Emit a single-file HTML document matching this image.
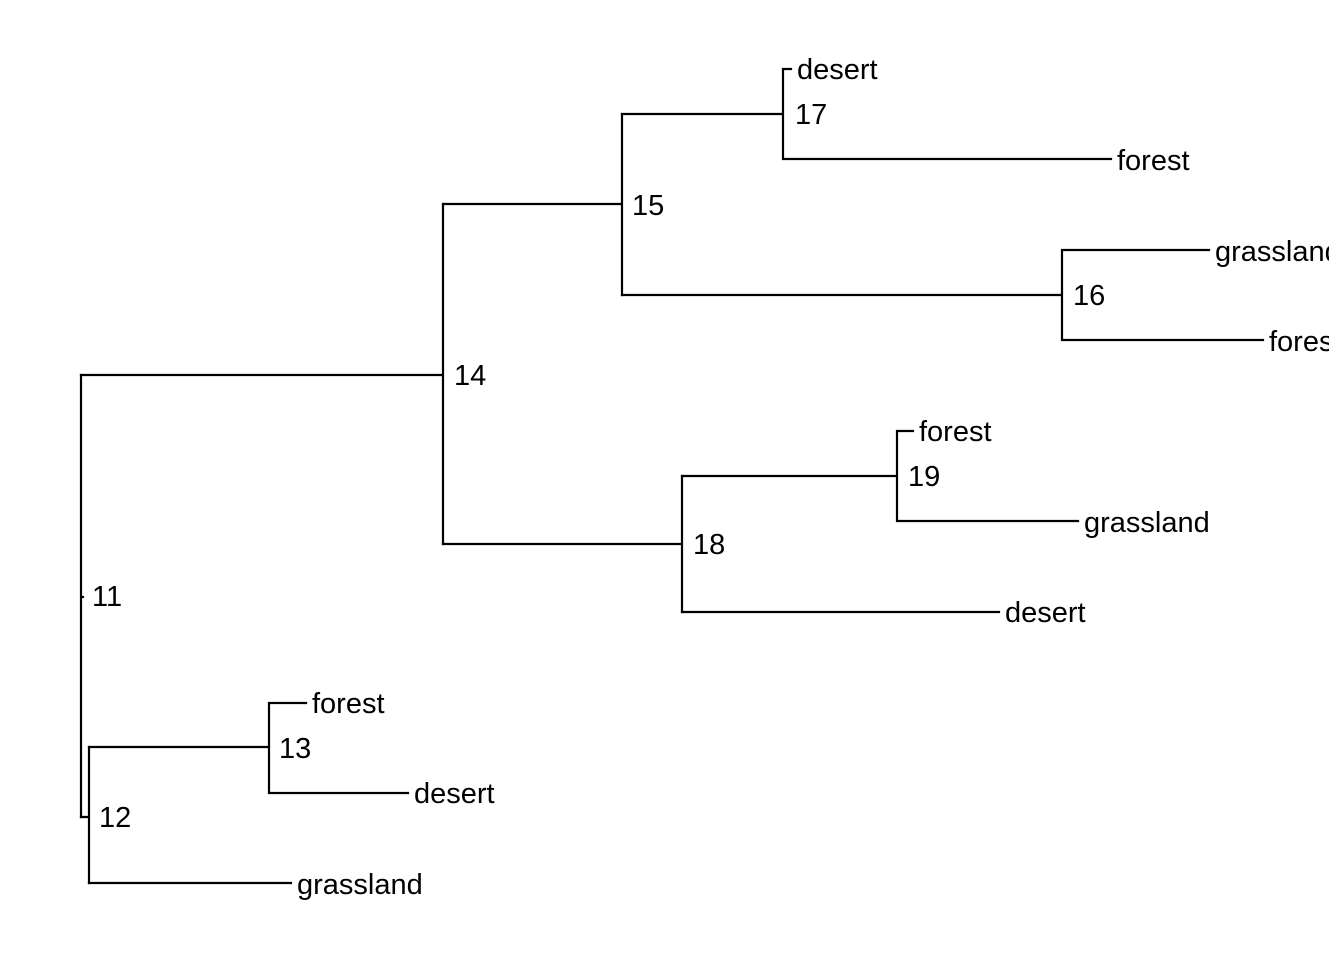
<!DOCTYPE html>
<html><head><meta charset="utf-8"><style>
html,body{margin:0;padding:0;background:#fff;}
svg{display:block;}
text{font-family:"Liberation Sans",Arial,sans-serif;font-size:29px;fill:#000;dominant-baseline:central;}
</style></head><body>
<svg width="1344" height="960" viewBox="0 0 1344 960">
<defs><clipPath id="c"><rect x="0" y="0" width="1329" height="960"/></clipPath></defs>
<g clip-path="url(#c)">
<g stroke="#000" stroke-width="2.2" fill="none" stroke-linecap="square">
<path d="M81 375V817M81 597H83"/>
<path d="M81 817H89M89 747V883"/>
<path d="M89 747H269M269 703V793M269 703H306M269 793H408M89 883H291"/>
<path d="M81 375H443M443 204V544"/>
<path d="M443 204H622M622 114V295"/>
<path d="M622 114H783M783 69V159M783 69H791M783 159H1111"/>
<path d="M622 295H1062M1062 250V340M1062 250H1209M1062 340H1263"/>
<path d="M443 544H682M682 476V612"/>
<path d="M682 476H897M897 431V521M897 431H913M897 521H1078M682 612H999"/>
</g>
<text x="92" y="597">11</text>
<text x="99" y="818">12</text>
<text x="279" y="749">13</text>
<text x="454" y="376">14</text>
<text x="632" y="206">15</text>
<text x="1073" y="296">16</text>
<text x="795" y="115">17</text>
<text x="693" y="545">18</text>
<text x="908" y="477">19</text>
<text x="312" y="704">forest</text>
<text x="414" y="794">desert</text>
<text x="297" y="885">grassland</text>
<text x="797" y="70">desert</text>
<text x="1117" y="161">forest</text>
<text x="1215" y="252">grassland</text>
<text x="1269" y="342">forest</text>
<text x="919" y="432">forest</text>
<text x="1084" y="523">grassland</text>
<text x="1005" y="613">desert</text>
</g>
</svg>
</body></html>
